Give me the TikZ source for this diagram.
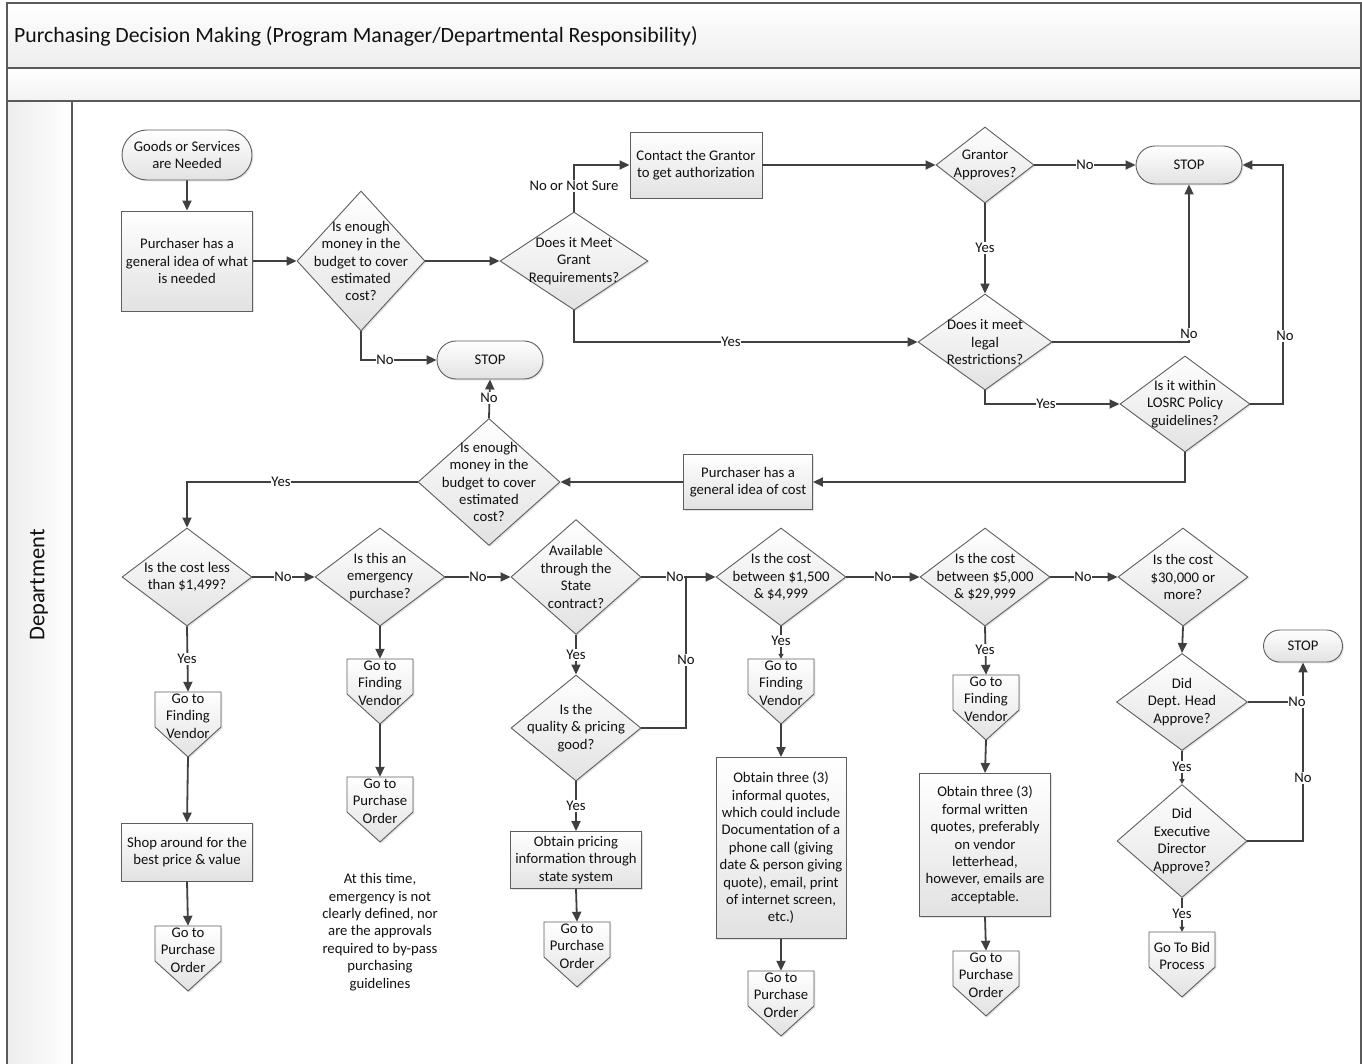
\documentclass[tikz,border=0pt]{standalone}
\usepackage{fontspec}
\setmainfont{Carlito}
\usetikzlibrary{shapes.geometric,shapes.misc,arrows.meta,shadows,calc}
\definecolor{ln}{HTML}{404040}
\definecolor{bd}{HTML}{5E5E5E}
\definecolor{sh}{HTML}{E2E2E2}
\definecolor{tx}{HTML}{111111}
\definecolor{fr}{HTML}{5A5A5A}
\tikzset{
 base/.style={draw=bd, line width=0.9pt, top color=white, bottom color=sh,
   drop shadow={shadow xshift=1.4pt, shadow yshift=-1.4pt, opacity=0.22}},
 txt/.style={font=\fontsize{14.7}{17.4}\selectfont, text=tx, align=center, inner sep=0pt},
 term/.style={base, rounded rectangle, txt},
 proc/.style={base, rectangle, txt},
 dia/.style={base, diamond, inner sep=0pt},
 conn/.style={draw=ln, line width=1.8pt, -{Triangle[length=10pt,width=9pt]}},
 connS/.style={draw=ln, line width=1.8pt, -{Triangle[length=5pt,width=5pt]}},
 plain/.style={draw=ln, line width=1.8pt},
 lbl/.style={txt, fill=white, inner sep=0.8pt},
 frame/.style={draw=fr, line width=1.4pt},
}
\newcommand\mkdec[6]{%
 \node[dia, minimum width=#4pt, minimum height=#5pt] (#1) at (#2,#3) {};
 \node[txt] (#1t) at (#1) {#6};}
\newcommand\mkoff[4]{%
 \path[base] (#2-33,#3) -- (#2+33,#3) -- (#2+33,#3+35) -- (#2,#3+65) -- (#2-33,#3+35) -- cycle;
 \node[minimum width=66pt, minimum height=65pt, inner sep=0pt] (#1) at (#2,#3+32.5) {};
 \node[txt] (#1t) at (#2,#3+24) {#4};}
\begin{document}
\begin{tikzpicture}[x=1pt,y=-1pt]
\useasboundingbox (0,0) rectangle (1362,1064);
\clip (0,0) rectangle (1362,1064);
% frame
\path[top color=white, bottom color=black!7] (7,3) rectangle (1361,68);
\path[top color=white, bottom color=black!5] (7,68) rectangle (1361,101);
\path[left color=black!7, right color=white] (7,101) rectangle (72,1070);
\draw[frame] (7,3) rectangle (1361,1070);
\draw[frame] (7,68) -- (1361,68);
\draw[frame] (7,101) -- (1361,101);
\draw[frame] (72,101) -- (72,1070);
\node[anchor=west, font=\fontsize{21.8}{25}\selectfont, text=tx, inner sep=0pt] (title) at (14,36.5)
 {Purchasing Decision Making (Program Manager/Departmental Responsibility)};
\node[rotate=90, font=\fontsize{22.5}{25}\selectfont, text=tx, inner sep=0pt] (lane) at (39,585) {Department};

% top part
\node[term, minimum width=130pt, minimum height=50pt] (start) at (187,155) {Goods or Services\\are Needed};
\node[proc, minimum width=131pt, minimum height=100pt] (p1) at (187,261) {Purchaser has a\\general idea of what\\is needed};
\mkdec{d1}{361}{261}{128}{140}{Is enough\\money in the\\budget to cover\\estimated\\cost?}
\mkdec{d2}{574}{261}{148}{98}{Does it Meet\\Grant\\Requirements?}
\node[proc, minimum width=132pt, minimum height=66pt] (g1) at (696,165) {Contact the Grantor\\to get authorization};
\mkdec{d3}{985}{165}{98}{76}{Grantor\\Approves?}
\node[term, minimum width=106pt, minimum height=38pt] (s1) at (1189,165) {STOP};
\mkdec{d4}{985}{342}{134}{96}{Does it meet\\legal\\Restrictions?}
\mkdec{d5}{1185}{404}{130}{96}{Is it within\\LOSRC Policy\\guidelines?}
\node[proc, minimum width=129pt, minimum height=55pt] (p2) at (748,482) {Purchaser has a\\general idea of cost};
\mkdec{d6}{489}{482}{142}{127}{Is enough\\money in the\\budget to cover\\estimated\\cost?}
\node[term, minimum width=106pt, minimum height=38pt] (s2) at (490,360) {STOP};

% row of cost decisions
\mkdec{d7}{187}{577}{130}{98}{Is the cost less\\than \$1,499?}
\mkdec{d8}{380}{577}{130}{98}{Is this an\\emergency\\purchase?}
\mkdec{d9}{576}{577}{130}{115}{Available\\through the\\State\\contract?}
\mkdec{d10}{781}{577}{130}{98}{Is the cost\\between \$1,500\\\& \$4,999}
\mkdec{d11}{985}{577}{130}{98}{Is the cost\\between \$5,000\\\& \$29,999}
\mkdec{d12}{1183}{577}{130}{98}{Is the cost\\\$30,000 or\\more?}
\mkdec{d13}{576}{728}{130}{106}{Is the\\quality \& pricing\\good?}
\mkdec{d14}{1182}{702}{131}{97}{Did\\Dept. Head\\Approve?}
\mkdec{d15}{1182}{841}{130}{113}{Did\\Executive\\Director\\Approve?}
\node[term, minimum width=79pt, minimum height=32pt] (s3) at (1303,646) {STOP};

\node[proc, minimum width=131pt, minimum height=57pt] (p3) at (576,860) {Obtain pricing\\information through\\state system};
\node[proc, minimum width=131pt, minimum height=58pt] (p4) at (187,852) {Shop around for the\\best price \& value};
\node[proc, minimum width=130pt, minimum height=181pt] (p5) at (781,848) {Obtain three (3)\\informal quotes,\\which could include\\Documentation of a\\phone call (giving\\date \& person giving\\quote), email, print\\of internet screen,\\etc.)};
\node[proc, minimum width=131pt, minimum height=143pt] (p6) at (985,845) {Obtain three (3)\\formal written\\quotes, preferably\\on vendor\\letterhead,\\however, emails are\\acceptable.};
\node[txt] (note) at (380,932) {At this time,\\emergency is not\\clearly defined, nor\\are the approvals\\required to by-pass\\purchasing\\guidelines};

\mkoff{o1}{188}{692}{Go to\\Finding\\Vendor}
\mkoff{o2}{188}{926}{Go to\\Purchase\\Order}
\mkoff{o3}{380}{659}{Go to\\Finding\\Vendor}
\mkoff{o4}{380}{777}{Go to\\Purchase\\Order}
\mkoff{o5}{577}{922}{Go to\\Purchase\\Order}
\mkoff{o6}{781}{659}{Go to\\Finding\\Vendor}
\mkoff{o7}{781}{971}{Go to\\Purchase\\Order}
\mkoff{o8}{986}{675}{Go to\\Finding\\Vendor}
\mkoff{o9}{986}{951}{Go to\\Purchase\\Order}
\mkoff{o10}{1182}{932}{Go To Bid\\Process}

\coordinate (c1) at (1283,165);
\coordinate (c2) at (686,577);
\coordinate (c3) at (1303,702);

% connectors
\draw[conn] (start) -- (p1);
\draw[conn] (p1) -- (d1.west);
\draw[conn] (d1.east) -- (d2.west);
\draw[conn] (d2.north) |- (g1.west);
\draw[conn] (g1) -- (d3.west);
\draw[conn] (d3.east) -- (s1.west);
\draw[conn] (d3.south) -- (d4.north);
\draw[conn] (d2.south) |- (d4.west);
\draw[conn] (d4.east) -| (s1.south);
\draw[conn] (d4.south) |- (d5.west);
\draw[conn] (d5.east) -| (c1) -- (s1.east);
\draw[conn] (d5.south) |- (p2.east);
\draw[conn] (p2) -- (d6.east);
\draw[conn] (d6.north) -- (s2.south);
\draw[conn] (d1.south) |- (s2.west);
\draw[conn] (d6.west) -| (d7.north);
\draw[conn] (d7.east) -- (d8.west);
\draw[conn] (d8.east) -- (d9.west);
\draw[conn] (d9.east) -- (d10.west);
\draw[conn] (d10.east) -- (d11.west);
\draw[conn] (d11.east) -- (d12.west);
\draw[plain] (d13.east) -| (c2);
\draw[conn] (d9.south) -- (d13.north);
\draw[conn] (d13.south) -- (p3.north);
\draw[conn] (p3.south) -- (o5.north);
\draw[conn] (d7.south) -- (o1.north);
\draw[conn] (o1.south) -- (p4.north);
\draw[conn] (p4.south) -- (o2.north);
\draw[conn] (d8.south) -- (o3.north);
\draw[conn] (o3.south) -- (o4.north);
\draw[connS] (d10.south) -- (o6.north);
\draw[conn] (o6.south) -- (p5.north);
\draw[conn] (p5.south) -- (o7.north);
\draw[conn] (d11.south) -- (o8.north);
\draw[conn] (o8.south) -- (p6.north);
\draw[conn] (p6.south) -- (o9.north);
\draw[conn] (d12.south) -- (d14.north);
\draw[plain] (d14.east) -- (c3);
\draw[conn] (d15.east) -| (s3.south);
\draw[connS] (d14.south) -- (d15.north);
\draw[connS] (d15.south) -- (o10.north);

% labels
\node[lbl] (l1) at (574,186) {No or Not Sure};
\node[lbl] (l2) at (1085,165) {No};
\node[lbl] (l3) at (985,248) {Yes};
\node[lbl] (l4) at (731,342) {Yes};
\node[lbl] (l5) at (1189,334) {No};
\node[lbl] (l6) at (1046,404) {Yes};
\node[lbl] (l7) at (1285,336) {No};
\node[lbl] (l8) at (489,398) {No};
\node[lbl] (l9) at (385,360) {No};
\node[lbl] (l10) at (281,482) {Yes};
\node[lbl] (l11) at (283,577) {No};
\node[lbl] (l12) at (478,577) {No};
\node[lbl] (l13) at (675,577) {No};
\node[lbl] (l14) at (883,577) {No};
\node[lbl] (l15) at (1083,577) {No};
\node[lbl] (l16) at (686,660) {No};
\node[lbl] (l17) at (576,655) {Yes};
\node[lbl] (l18) at (576,806) {Yes};
\node[lbl] (l19) at (187,659) {Yes};
\node[lbl] (l20) at (781,641) {Yes};
\node[lbl] (l21) at (985,650) {Yes};
\node[lbl] (l22) at (1297,702) {No};
\node[lbl] (l23) at (1303,778) {No};
\node[lbl] (l24) at (1182,767) {Yes};
\node[lbl] (l25) at (1182,914) {Yes};
\end{tikzpicture}
\end{document}
